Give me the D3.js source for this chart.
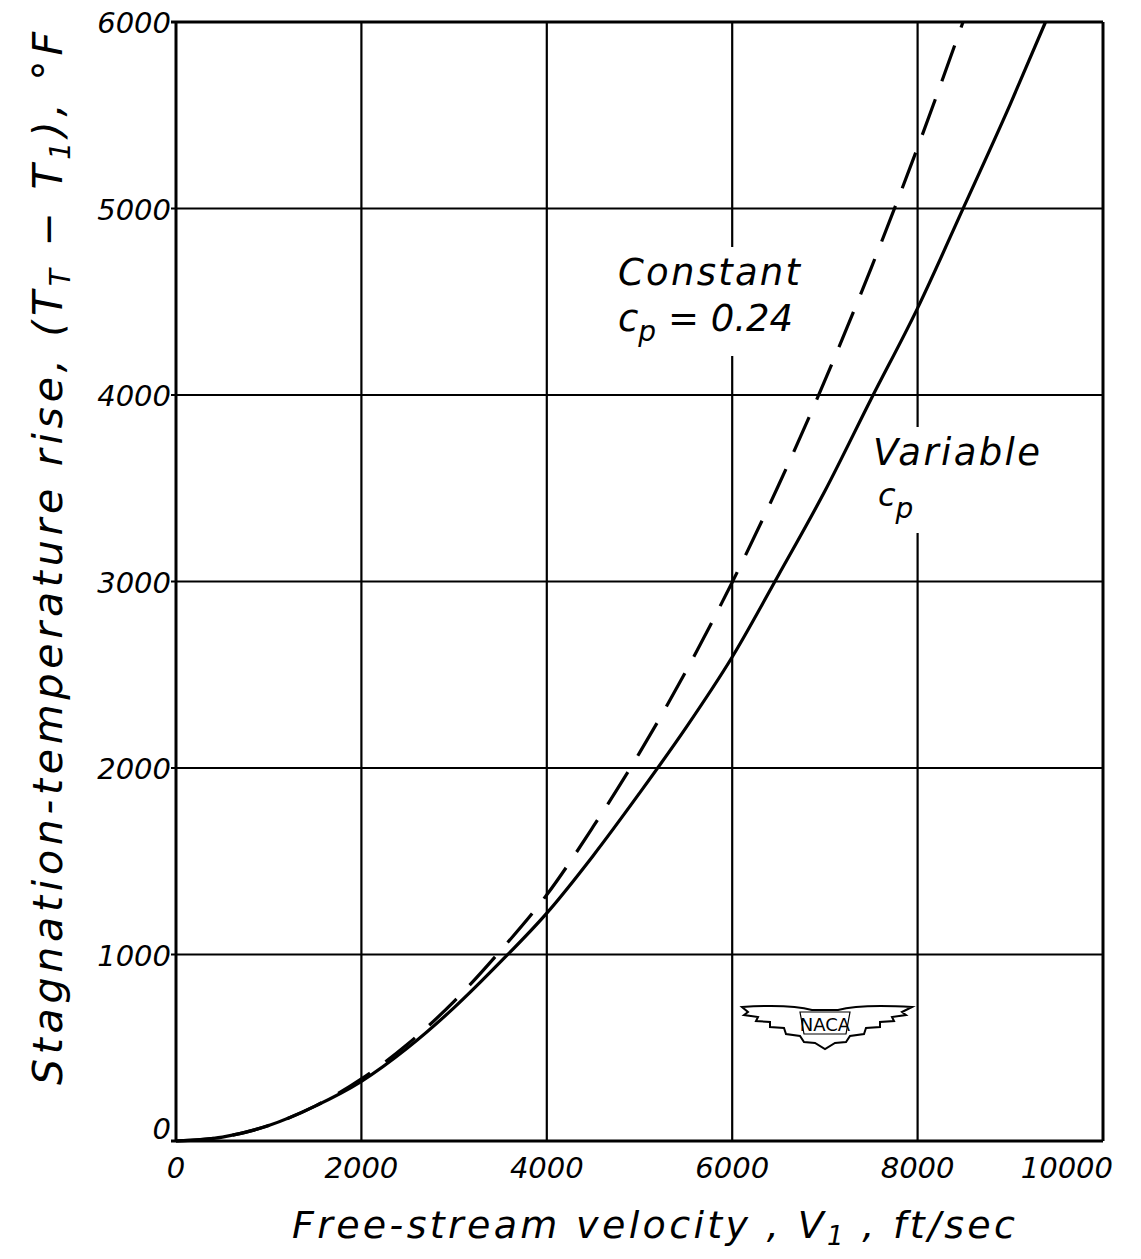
<!DOCTYPE html>
<html>
<head>
<meta charset="utf-8">
<script src="https://cdn.jsdelivr.net/npm/d3@7"></script>
<style>
  body { margin: 0; background: #fff; }
  text { font-family: "DejaVu Sans", sans-serif; font-style: italic; fill: #000; }
</style>
</head>
<body>
<svg id="chart" width="1141" height="1259"></svg>
<script>
// Tick values for both axes.
const xTicks = [0, 2000, 4000, 6000, 8000, 10000];
const yTicks = [0, 1000, 2000, 3000, 4000, 5000, 6000];

// Variable cp curve (solid).
const varV = [0, 500, 1000, 1500, 2000, 2500, 3000, 3500, 4000, 4500, 5000, 5500, 6000, 6500, 7000, 7500, 8000, 8500, 9000, 9380];
const varT = [0, 21, 83, 187, 320, 500, 715, 960, 1222, 1530, 1865, 2215, 2595, 3035, 3485, 3980, 4466, 5010, 5560, 6000];

// Constant cp = 0.24 curve (dashed).
const conV = [0, 500, 1000, 1500, 2000, 2500, 3000, 3500, 4000, 4500, 5000, 5500, 6000, 6500, 7000, 7500, 8000, 8490];
const conT = [0, 21, 83, 187, 333, 520, 749, 1020, 1320, 1685, 2081, 2518, 2996, 3516, 4078, 4682, 5327, 6000];

let svg = d3.select("#chart");

// Scales for the plot frame.
let x = d3.scaleLinear().domain([0, 10000]).range([176, 1103]);
let y = d3.scaleLinear().domain([0, 6000]).range([1141, 22]);

// Grid lines.
let grid = svg.append("g").attr("stroke", "#000");
grid.selectAll(".vg").data(xTicks).enter().append("line")
    .attr("x1", d => x(d)).attr("x2", d => x(d))
    .attr("y1", y(0)).attr("y2", y(6000))
    .attr("stroke-width", d => (d === 0 || d === 10000) ? 3 : 2.2);
grid.selectAll(".hg").data(yTicks).enter().append("line")
    .attr("x1", x(0) - 5).attr("x2", x(10000))
    .attr("y1", d => y(d)).attr("y2", d => y(d))
    .attr("stroke-width", d => (d === 0 || d === 6000) ? 3 : 2.2);

// Tick labels.
svg.append("g").selectAll("text").data(yTicks).enter().append("text")
    .attr("x", x(0) - 5)
    .attr("y", d => y(d) + (d === 0 ? -2 : 11))
    .attr("text-anchor", "end")
    .attr("font-size", 29)
    .text(d => d);
svg.append("g").selectAll("text").data(xTicks).enter().append("text")
    .attr("x", d => d === 10000 ? x(d) + 10 : x(d))
    .attr("y", 1178)
    .attr("text-anchor", d => d === 10000 ? "end" : "middle")
    .attr("font-size", 29)
    .text(d => d);

// Labels inside the plot, with the grid knocked out behind them.
let knock = svg.append("g");
let notes = svg.append("g");

let c1 = notes.append("text").attr("x", 618).attr("y", 285).attr("font-size", 37)
    .attr("textLength", 182).text("Constant");
let c2 = notes.append("text").attr("x", 618).attr("y", 331).attr("font-size", 37);
c2.append("tspan").text("c");
c2.append("tspan").attr("font-size", 28).attr("dy", 10).text("p");
c2.append("tspan").attr("dy", -10).text(" = 0.24");

let v1 = notes.append("text").attr("x", 873).attr("y", 465).attr("font-size", 37)
    .attr("textLength", 167).text("Variable");
let v2 = notes.append("text").attr("x", 878).attr("y", 506).attr("font-size", 32);
v2.append("tspan").text("c");
v2.append("tspan").attr("font-size", 28).attr("dy", 12).text("p");

[[c1, c2], [v1, v2]].forEach(([a, b]) => {
    let ba = a.node().getBBox(), bb = b.node().getBBox();
    let x0 = Math.min(ba.x, bb.x), y0 = ba.y;
    let x1 = Math.max(ba.x + ba.width, bb.x + bb.width), y1 = bb.y + bb.height;
    knock.append("rect")
        .attr("x", x0 - 4).attr("y", y0 - 4)
        .attr("width", x1 - x0 + 8).attr("height", y1 - y0 + 12)
        .attr("fill", "#fff");
});

// Curves.
let line = d3.line().x(d => x(d[0])).y(d => y(d[1])).curve(d3.curveMonotoneX);
svg.append("path")
    .attr("d", line(d3.zip(conV, conT)))
    .attr("fill", "none").attr("stroke", "#000").attr("stroke-width", 3.2)
    .attr("stroke-dasharray", "38,19");
svg.append("path")
    .attr("d", line(d3.zip(varV, varT)))
    .attr("fill", "none").attr("stroke", "#000").attr("stroke-width", 3.2);

notes.raise();

// NACA wing logo.
let logo = svg.append("g");
logo.append("path")
    .attr("d", "M742,1007 Q790,1004 812,1010 L838,1010 Q860,1004 912,1007 L902,1012 L906,1015 L892,1017 L894,1021 L880,1022 L880,1027 L866,1028 L864,1034 L850,1036 L846,1042 L835,1043 L825,1049 L815,1043 L804,1042 L800,1036 L786,1034 L784,1028 L770,1027 L770,1022 L756,1021 L758,1017 L744,1015 L748,1012 Z")
    .attr("fill", "#fff").attr("stroke", "#000").attr("stroke-width", 2);
logo.append("path")
    .attr("d", "M800,1012 L850,1012 L846,1034 L804,1034 Z")
    .attr("fill", "#fff").attr("stroke", "#000").attr("stroke-width", 1.2);
logo.append("text").attr("x", 825).attr("y", 1031).attr("text-anchor", "middle")
    .attr("font-size", 18).style("font-style", "normal").text("NACA");

// Axis titles.
let xt = svg.append("text").attr("x", 292).attr("y", 1238).attr("font-size", 38)
    .attr("textLength", 723);
xt.append("tspan").text("Free-stream velocity , V");
xt.append("tspan").attr("font-size", 26).attr("dy", 7).text("1");
xt.append("tspan").attr("dy", -7).text(" , ft/sec");

let yt = svg.append("text").attr("transform", "translate(62,1085) rotate(-90)")
    .attr("font-size", 41).attr("textLength", 1053);
yt.append("tspan").text("Stagnation-temperature rise, (T");
yt.append("tspan").attr("font-size", 28).attr("dy", 8).text("T");
yt.append("tspan").attr("dy", -8).text(" − T");
yt.append("tspan").attr("font-size", 28).attr("dy", 8).text("1");
yt.append("tspan").attr("dy", -8).text("), °F");
</script>
</body>
</html>
